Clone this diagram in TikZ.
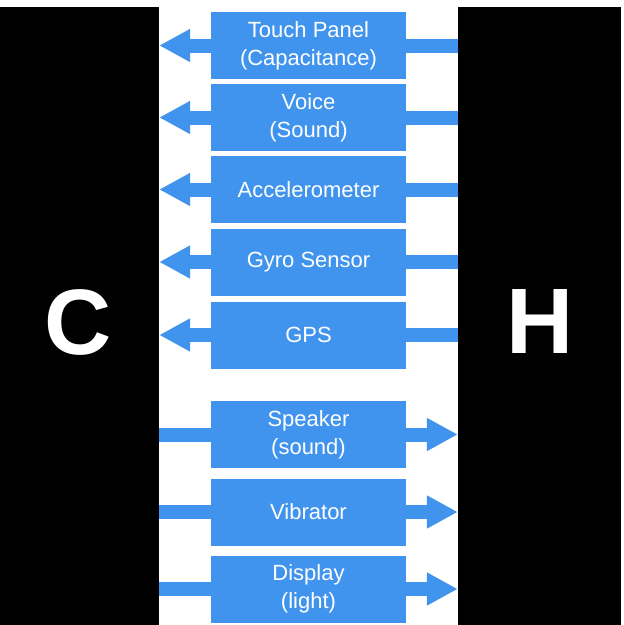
\documentclass[tikz,border=0pt]{standalone}
\usepackage{fontspec}
\setmainfont{Liberation Sans}
\usetikzlibrary{arrows.meta,backgrounds}
\definecolor{boxblue}{RGB}{64,148,238}
\tikzset{
  panel/.style={fill=black, draw=none, text=white, minimum height=618pt, inner sep=0pt},
  bigletter/.style={text=white, font=\bfseries\fontsize{93}{93}\selectfont},
  box/.style={fill=boxblue, draw=none, text=white, minimum width=195pt, minimum height=67pt,
    inner sep=0pt, align=center, font=\fontsize{22}{28}\selectfont},
  flow/.style={draw=boxblue, line width=14pt, -{Triangle[length=31pt,width=31pt]}}
}
\begin{document}
\begin{tikzpicture}[x=1pt,y=-1pt]
\useasboundingbox (0,0) rectangle (624,625);
\node[panel, minimum width=159pt] (C) at (79.5,316) {};
\node[panel, minimum width=163pt] (H) at (539.5,316) {};
\node[bigletter] (Ct) at (78,322) {C};
\node[bigletter] (Ht) at (540,322) {H};
\node[box] (t1) at (308.5,45.5) {Touch Panel\\(Capacitance)};
\node[box] (t2) at (308.5,117.5) {Voice\\(Sound)};
\node[box] (t3) at (308.5,189.5) {Accelerometer};
\node[box] (t4) at (308.5,262) {Gyro Sensor};
\node[box] (t5) at (308.5,335) {GPS};
\node[box] (o1) at (308.5,434.5) {Speaker\\(sound)};
\node[box] (o2) at (308.5,512) {Vibrator};
\node[box] (o3) at (308.5,589) {Display\\(light)};
\begin{scope}[on background layer]
\fill[white] (0,0) rectangle (624,625);
\foreach \n in {t1,t2,t3,t4,t5}
  \draw[flow] (H.west |- \n.center) -- (C.east |- \n.center);
\foreach \n in {o1,o2,o3}
  \draw[flow] (C.east |- \n.center) -- (H.west |- \n.center);
\end{scope}
\end{tikzpicture}
\end{document}
